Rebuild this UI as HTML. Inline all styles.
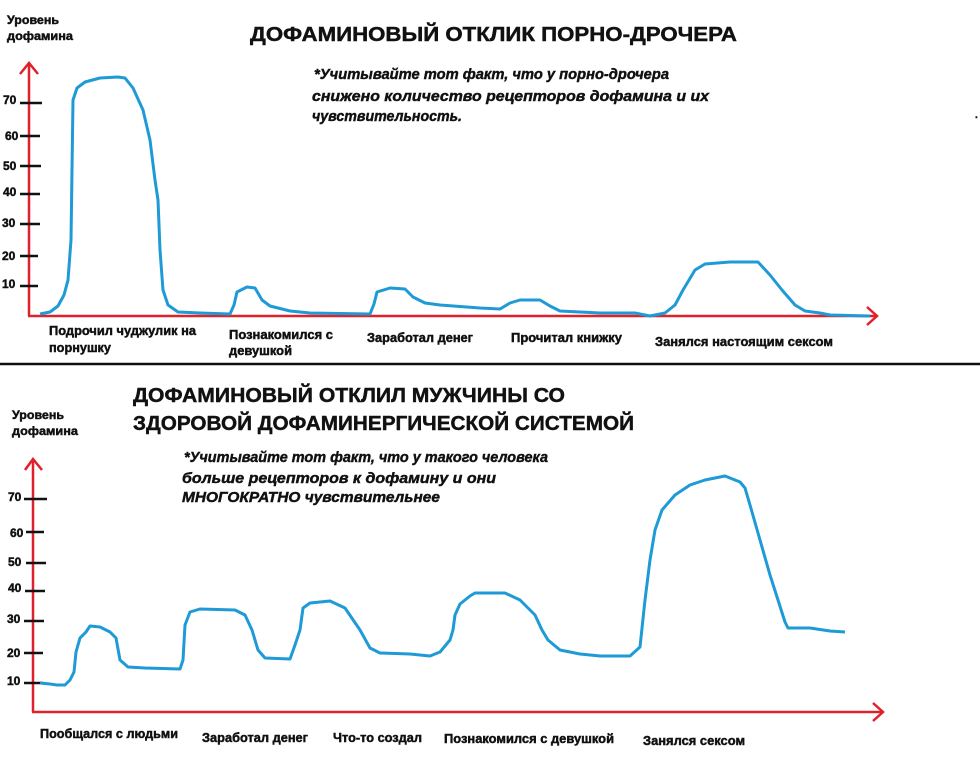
<!DOCTYPE html>
<html><head><meta charset="utf-8"><style>
html,body{margin:0;padding:0;background:#fff}
svg{display:block}
text{font-family:"Liberation Sans",sans-serif;font-weight:bold;fill:#111;stroke:#111;stroke-width:0.45}
.it{font-style:italic}
</style></head><body>
<svg width="980" height="771" viewBox="0 0 980 771" xmlns="http://www.w3.org/2000/svg">
<rect width="980" height="771" fill="#fff"/>
<!-- top -->
<text x="7" y="24" font-size="11.5" textLength="52" lengthAdjust="spacingAndGlyphs">Уровень</text>
<text x="7" y="40" font-size="11.5" textLength="66" lengthAdjust="spacingAndGlyphs">дофамина</text>
<text x="250" y="41" font-size="20" textLength="487" lengthAdjust="spacingAndGlyphs">ДОФАМИНОВЫЙ ОТКЛИК ПОРНО-ДРОЧЕРА</text>
<text class="it" x="314" y="79" font-size="15" textLength="355" lengthAdjust="spacingAndGlyphs">*Учитывайте тот факт, что у порно-дрочера</text>
<text class="it" x="312" y="101" font-size="15" textLength="397" lengthAdjust="spacingAndGlyphs">снижено количество рецепторов дофамина и их</text>
<text class="it" x="312" y="121" font-size="15" textLength="150" lengthAdjust="spacingAndGlyphs">чувствительность.</text>
<text x="975" y="118" font-size="10">.</text>
<g stroke="#e0202a" stroke-width="2.5" fill="none">
<line x1="29" y1="316" x2="29" y2="64"/>
<polyline points="20,74 29,63 38,74"/>
<line x1="28" y1="316" x2="876" y2="316"/>
<polyline points="867,307 877,316 867,325"/>
</g>
<g stroke="#111" stroke-width="2.5">
<line x1="20" y1="103" x2="42" y2="103"/><line x1="20" y1="136" x2="40" y2="136"/>
<line x1="20" y1="166" x2="41" y2="166"/><line x1="20" y1="194" x2="40" y2="194"/>
<line x1="20" y1="224" x2="40" y2="224"/><line x1="20" y1="256" x2="38" y2="256"/>
<line x1="20" y1="286" x2="38" y2="286"/>
</g>
<g font-size="12">
<text x="3" y="104">70</text><text x="5" y="140">60</text><text x="3" y="170">50</text>
<text x="3" y="196">40</text><text x="2" y="227">30</text><text x="2" y="260">20</text><text x="2" y="288">10</text>
</g>
<polyline fill="none" stroke="#1e9ad6" stroke-width="3" stroke-linejoin="round" points="40,314 50,312 58,306 64,295 68,280 71,240 73,100 77,88 85,82 100,78 118,77 125,78 133,88 143,110 150,140 155,180 158,200 160,250 163,290 168,305 178,312 200,313 230,314 234,305 237,292 247,287 255,288 262,300 270,306 290,311 310,313 370,314 374,304 377,292 390,288 405,289 413,297 425,303 440,305 480,308 500,309 510,303 520,300 540,300 550,306 560,311 600,313 635,313 650,316 665,313 675,305 683,290 695,270 705,264 730,262 758,262 770,275 782,290 795,305 805,311 820,313 830,315 870,316"/>
<g font-size="12.5">
<text x="49" y="335" textLength="147" lengthAdjust="spacingAndGlyphs">Подрочил чуджулик на</text>
<text x="49" y="352" textLength="62" lengthAdjust="spacingAndGlyphs">порнушку</text>
<text x="229" y="339" textLength="104" lengthAdjust="spacingAndGlyphs">Познакомился с</text>
<text x="229" y="355" textLength="63" lengthAdjust="spacingAndGlyphs">девушкой</text>
<text x="367" y="342" textLength="106" lengthAdjust="spacingAndGlyphs">Заработал денег</text>
<text x="511" y="342" textLength="111" lengthAdjust="spacingAndGlyphs">Прочитал книжку</text>
<text x="655" y="346" textLength="178" lengthAdjust="spacingAndGlyphs">Занялся настоящим сексом</text>
</g>
<line x1="0" y1="364" x2="980" y2="364" stroke="#111" stroke-width="2.5"/>
<!-- bottom -->
<text x="12" y="419" font-size="11.5" textLength="52" lengthAdjust="spacingAndGlyphs">Уровень</text>
<text x="12" y="435" font-size="11.5" textLength="66" lengthAdjust="spacingAndGlyphs">дофамина</text>
<text x="133" y="402" font-size="20.5" textLength="432" lengthAdjust="spacingAndGlyphs">ДОФАМИНОВЫЙ ОТКЛИЛ МУЖЧИНЫ СО</text>
<text x="133" y="430" font-size="20.5" textLength="501" lengthAdjust="spacingAndGlyphs">ЗДОРОВОЙ ДОФАМИНЕРГИЧЕСКОЙ СИСТЕМОЙ</text>
<text class="it" x="184" y="462" font-size="15" textLength="364" lengthAdjust="spacingAndGlyphs">*Учитывайте тот факт, что у такого человека</text>
<text class="it" x="182" y="483" font-size="15" textLength="314" lengthAdjust="spacingAndGlyphs">больше рецепторов к дофамину и они</text>
<text class="it" x="182" y="502" font-size="15" textLength="258" lengthAdjust="spacingAndGlyphs">МНОГОКРАТНО чувствительнее</text>
<g stroke="#e0202a" stroke-width="2.5" fill="none">
<line x1="33" y1="712" x2="33" y2="460"/>
<polyline points="25,470 33,459 42,470"/>
<line x1="32" y1="712" x2="882" y2="712"/>
<polyline points="873,703 883,712 873,721"/>
</g>
<g stroke="#111" stroke-width="2.5">
<line x1="24" y1="499" x2="47" y2="499"/><line x1="26" y1="532" x2="44" y2="532"/>
<line x1="26" y1="563" x2="46" y2="563"/><line x1="25" y1="591" x2="45" y2="591"/>
<line x1="24" y1="621" x2="44" y2="621"/><line x1="24" y1="653" x2="43" y2="653"/>
<line x1="24" y1="683" x2="43" y2="683"/>
</g>
<g font-size="12">
<text x="8" y="501">70</text><text x="10" y="537">60</text><text x="8" y="566">50</text>
<text x="8" y="592">40</text><text x="7" y="623">30</text><text x="7" y="657">20</text><text x="7" y="685">10</text>
</g>
<polyline fill="none" stroke="#1e9ad6" stroke-width="3" stroke-linejoin="round" points="40,683 50,684 57,685 65,685 70,680 74,672 76,652 80,638 86,632 90,626 100,627 110,632 116,638 120,660 128,667 145,668 180,669 183,660 185,625 190,612 200,609 235,610 245,615 252,630 258,650 265,658 290,659 295,645 300,630 303,608 310,603 330,601 345,608 360,630 370,648 380,653 410,654 430,656 440,652 450,640 453,630 455,615 460,604 470,596 475,593 505,593 520,600 535,615 542,630 548,640 560,650 580,654 600,656 630,656 640,647 645,600 650,560 655,530 662,510 675,495 690,485 705,480 725,476 740,482 745,488 750,505 760,540 770,575 778,600 785,622 788,628 810,628 830,631 845,632"/>
<g font-size="12.5">
<text x="40" y="738" textLength="138" lengthAdjust="spacingAndGlyphs">Пообщался с людьми</text>
<text x="202" y="742" textLength="106" lengthAdjust="spacingAndGlyphs">Заработал денег</text>
<text x="333" y="742" textLength="89" lengthAdjust="spacingAndGlyphs">Что-то создал</text>
<text x="444" y="743" textLength="170" lengthAdjust="spacingAndGlyphs">Познакомился с девушкой</text>
<text x="643" y="745" textLength="102" lengthAdjust="spacingAndGlyphs">Занялся сексом</text>
</g>
</svg>
</body></html>
